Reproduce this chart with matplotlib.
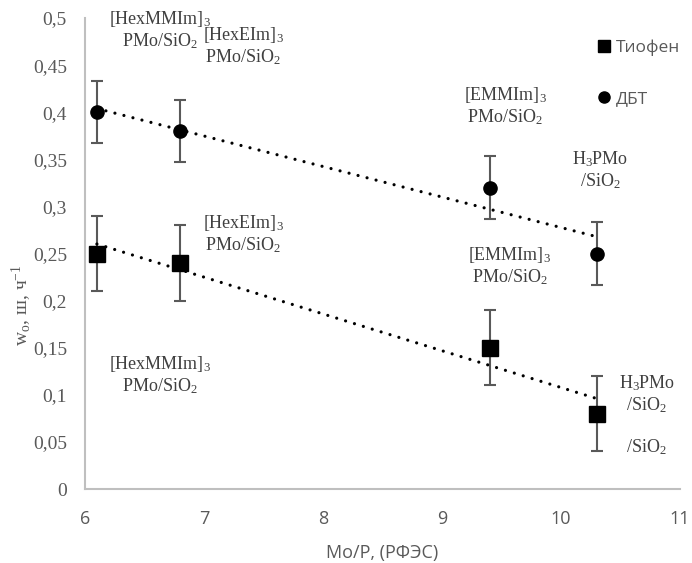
import numpy as np
import matplotlib
matplotlib.use('Agg')
import matplotlib.pyplot as plt
from matplotlib.lines import Line2D

plt.rcParams['mathtext.fontset'] = 'custom'
plt.rcParams['mathtext.rm'] = 'Liberation Serif'
plt.rcParams['mathtext.it'] = 'Liberation Serif:italic'

# данные
mo_p = [6.1, 6.8, 9.4, 10.3]
w_thiophene = [0.25, 0.24, 0.15, 0.08]
err_thiophene = [0.04, 0.04, 0.04, 0.04]
w_dbt = [0.40, 0.38, 0.32, 0.25]
err_dbt = [0.033, 0.033, 0.033, 0.033]

x_ticks = [6, 7, 8, 9, 10, 11]
y_ticks = [0, 0.05, 0.1, 0.15, 0.2, 0.25, 0.3, 0.35, 0.4, 0.45, 0.5]

# подписи катализаторов: (текст, x, y в координатах данных)
labels = [
    ('[HexMMIm]$_3$\nPMo/SiO$_2$', 6.63, 0.487),
    ('[HexEIm]$_3$\nPMo/SiO$_2$', 7.33, 0.470),
    ('[EMMIm]$_3$\nPMo/SiO$_2$', 9.53, 0.407),
    ('H$_3$PMo\n/SiO$_2$', 10.33, 0.338),
    ('[HexEIm]$_3$\nPMo/SiO$_2$', 7.33, 0.271),
    ('[EMMIm]$_3$\nPMo/SiO$_2$', 9.57, 0.237),
    ('[HexMMIm]$_3$\nPMo/SiO$_2$', 6.63, 0.121),
    ('H$_3$PMo\n/SiO$_2$', 10.72, 0.101),
    ('/SiO$_2$', 10.72, 0.044),
]

grey = '#595959'
serif = 'Liberation Serif'
sans = 'Open Sans'

fig = plt.figure(figsize=(6.92, 5.63), dpi=100)
ax = fig.add_axes([85 / 692, 1 - 489 / 563, 595 / 692, 471 / 563])

ax.errorbar(mo_p, w_thiophene, yerr=err_thiophene, fmt='s', color='black',
            markersize=11, ecolor=grey, elinewidth=1.5, capsize=4.5,
            capthick=1.5, zorder=3)
ax.errorbar(mo_p, w_dbt, yerr=err_dbt, fmt='o', color='black',
            markersize=9.5, ecolor=grey, elinewidth=1.5, capsize=4.5,
            capthick=1.5, zorder=3)

# линейные тренды
xs = np.array([mo_p[0], mo_p[-1]])
for yy in (w_thiophene, w_dbt):
    k, b = np.polyfit(mo_p, yy, 1)
    ax.plot(xs, k * xs + b, color='black', linewidth=2.3,
            linestyle=(0, (0.01, 2.9)), dash_capstyle='round', zorder=4)

for txt, x, y in labels:
    ax.text(x, y, txt, ha='center', va='center', fontsize=13,
            family=serif, color='#404040', linespacing=1.15)

ax.set_xlim(6, 11)
ax.set_ylim(0, 0.5)
ax.set_xticks(x_ticks)
ax.set_yticks(y_ticks)
ax.set_xticklabels([str(t) for t in x_ticks], family=sans, fontsize=13,
                   color=grey)
ax.set_yticklabels([f'{t:g}'.replace('.', ',') for t in y_ticks],
                   family=serif, fontsize=14, color=grey)
ax.tick_params(axis='y', length=0, pad=13)
ax.tick_params(axis='x', length=0, pad=15)
for s in ('top', 'right'):
    ax.spines[s].set_visible(False)
for s in ('left', 'bottom'):
    ax.spines[s].set_color('#BFBFBF')
    ax.spines[s].set_linewidth(1.5)

fig.text(0.5 * (85 + 680) / 692, 1 - 553 / 563, 'Mo/P, (РФЭС)',
         ha='center', va='center', family=sans, fontsize=13, color=grey)
fig.text(22 / 692, 1 - 305 / 563, r'w$_\mathrm{o}$, ш, ч$^{-1}$',
         rotation=90, ha='center', va='center', family=serif, fontsize=14,
         color=grey)

handles = [
    Line2D([], [], marker='s', color='black', linestyle='none', markersize=9),
    Line2D([], [], marker='o', color='black', linestyle='none', markersize=8),
]
leg = fig.legend(handles, ['Тиофен', 'ДБТ'], loc='upper left',
                 bbox_to_anchor=(583 / 692, 1 - 24 / 563), frameon=False,
                 handlelength=0.6, handletextpad=0.4, labelspacing=2.0,
                 prop={'family': sans, 'size': 12.5})
for t in leg.get_texts():
    t.set_color(grey)

fig.savefig('out.png', dpi=100)
